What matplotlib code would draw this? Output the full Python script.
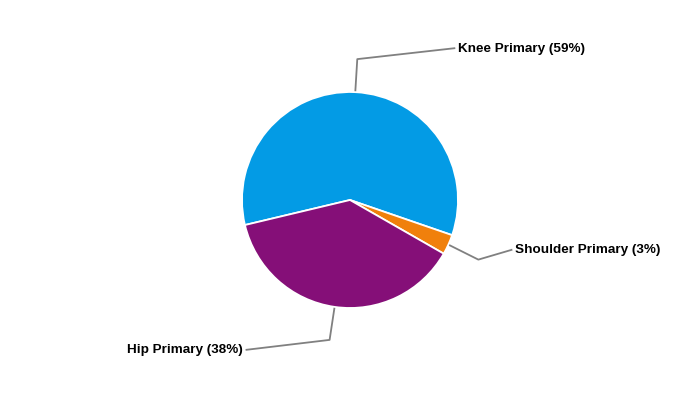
import numpy as np
import matplotlib
matplotlib.use("Agg")
import matplotlib.pyplot as plt

categories = ["Knee Primary", "Shoulder Primary", "Hip Primary"]
values = [59, 3, 38]
colors = ["#039BE5", "#F0800C", "#850F78"]

W, H = 700, 400
fig = plt.figure(figsize=(7, 4), dpi=100)
ax = fig.add_axes([0, 0, 1, 1])

cx, cy, R = 350, 200, 108
start = 193.4
wedges, _ = ax.pie(values, colors=colors, startangle=start, counterclock=False,
                   center=(cx, cy), radius=R, frame=True,
                   wedgeprops=dict(edgecolor="white", linewidth=1.3))
ax.set_xlim(0, W)
ax.set_ylim(0, H)
ax.set_aspect("equal")
ax.axis("off")

# connector elbows (dx, dy in pixel, y down) and label anchor
conf = [
    dict(elbow=(2, -33), end=(100, -44), ha="left", tx=3),
    dict(elbow=(30, 15), end=(64, 5), ha="left", tx=3),
    dict(elbow=(-5, 33), end=(-89, 43), ha="right", tx=-3),
]
for w, cat, v, c in zip(wedges, categories, values, conf):
    mid = np.deg2rad((w.theta1 + w.theta2) / 2)
    ax_x = cx + R * np.cos(mid)
    ax_y = cy + R * np.sin(mid)
    ex, ey = ax_x + c["elbow"][0], ax_y - c["elbow"][1]
    fx, fy = ax_x + c["end"][0], ax_y - c["end"][1]
    ax.plot([ax_x, ex, fx], [ax_y, ey, fy], color="#808080", lw=1.3,
            solid_capstyle="butt", zorder=0)
    ax.text(fx + c["tx"], fy - 0.5, f"{cat} ({v}%)", ha=c["ha"], va="center",
            fontsize=9.7, fontweight="bold", family="Liberation Sans", color="black")

fig.savefig("out.png", dpi=100)
